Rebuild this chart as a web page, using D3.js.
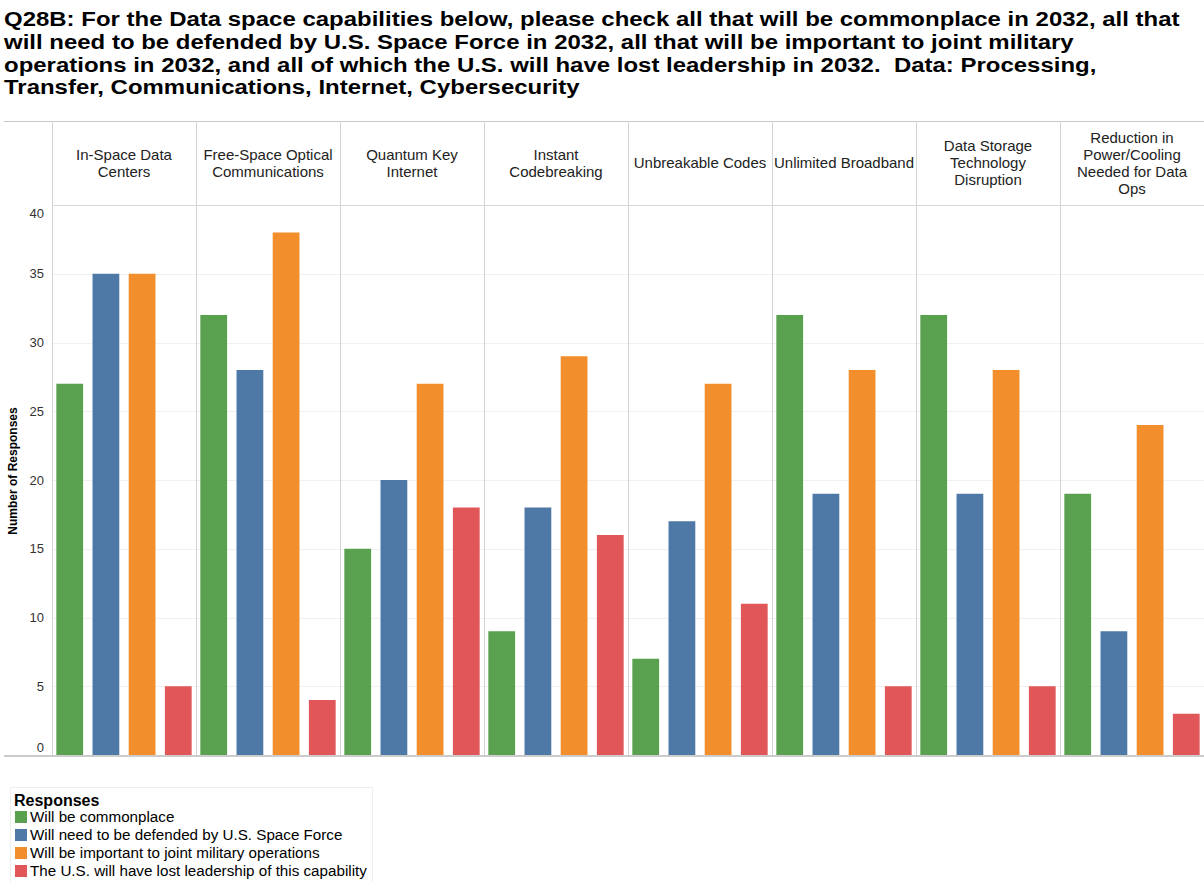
<!DOCTYPE html>
<html><head><meta charset="utf-8">
<script src="https://cdn.jsdelivr.net/npm/d3@7"></script>
<style>body{margin:0;background:#fff;} svg{display:block;font-family:Arial,"Liberation Sans",sans-serif;}</style>
</head><body><svg id="c" width="1204" height="882"></svg>
<script>
const titleLines = [
 "Q28B: For the Data space capabilities below, please check all that will be commonplace in 2032, all that",
 "will need to be defended by U.S. Space Force in 2032, all that will be important to joint military",
 "operations in 2032, and all of which the U.S. will have lost leadership in 2032.  Data: Processing,",
 "Transfer, Communications, Internet, Cybersecurity"];
const categories = ["In-Space Data Centers","Free-Space Optical Communications","Quantum Key Internet","Instant Codebreaking","Unbreakable Codes","Unlimited Broadband","Data Storage Technology Disruption","Reduction in Power/Cooling Needed for Data Ops"];
const categoryLines = [["In-Space Data","Centers"],["Free-Space Optical","Communications"],["Quantum Key","Internet"],["Instant","Codebreaking"],["Unbreakable Codes"],["Unlimited Broadband"],["Data Storage","Technology","Disruption"],["Reduction in","Power/Cooling","Needed for Data","Ops"]];
const seriesNames = ["Will be commonplace","Will need to be defended by U.S. Space Force","Will be important to joint military operations","The U.S. will have lost leadership of this capability"];
const commonplace = [27,32,15,9,7,32,32,19];
const defended = [35,28,20,18,17,19,19,9];
const important = [35,38,27,29,27,28,28,24];
const lostLeadership = [5,4,18,16,11,5,5,3];
const yTicks = [0,5,10,15,20,25,30,35,40];
const colors = ["#59a14f","#4e79a7","#f28e2b","#e15759"];
const series = [commonplace,defended,important,lostLeadership];

(function(){
const svg = d3.select("#c");
const left = 52, right = 1204, headTop = 121, plotTop = 205, bottom = 755;

svg.append("g").attr("transform","translate(4,0) scale(1.142,1)")
  .selectAll("text").data(titleLines).join("text")
  .attr("x",0).attr("y",(d,i)=>26+i*22.8).style("white-space","pre")
  .attr("font-size","21px").attr("font-weight","bold").attr("fill","#000").text(d=>d);

const x0 = d3.scaleBand().domain(categories).range([left,right]);
const x1 = d3.scaleBand().domain(d3.range(4)).range([0,x0.bandwidth()]).paddingInner(0.26).paddingOuter(0.12);
const y = d3.scaleLinear().domain([0,40]).range([bottom,plotTop]);

svg.append("g").selectAll("line").data(yTicks.filter(t=>t>0&&t<40)).join("line")
  .attr("x1",left).attr("x2",right).attr("y1",d=>Math.round(y(d))+0.5).attr("y2",d=>Math.round(y(d))+0.5)
  .attr("stroke","#f0f0f0").attr("stroke-width",1);

svg.append("line").attr("x1",4).attr("x2",right).attr("y1",headTop+0.5).attr("y2",headTop+0.5).attr("stroke","#c8c8c8");
svg.append("line").attr("x1",left).attr("x2",right).attr("y1",plotTop+0.5).attr("y2",plotTop+0.5).attr("stroke","#d9d9d9");
svg.append("g").selectAll("line").data(categories).join("line")
  .attr("x1",d=>Math.round(x0(d))+0.5).attr("x2",d=>Math.round(x0(d))+0.5)
  .attr("y1",headTop).attr("y2",bottom).attr("stroke","#d4d4d4");

const hg = svg.append("g");
categories.forEach((c,i)=>{
  const lines = categoryLines[i];
  const cx = x0(c)+x0.bandwidth()/2;
  const cy = (headTop+plotTop)/2;
  hg.append("text").attr("x",cx).attr("text-anchor","middle").attr("font-size","15px").attr("fill","#222")
    .selectAll("tspan").data(lines).join("tspan")
    .attr("x",cx).attr("y",(d,j)=>cy+5+(j-(lines.length-1)/2)*17).text(d=>d);
});

const bg = svg.append("g");
categories.forEach((c,i)=>{
  bg.selectAll(null).data(series.map((s,k)=>({k,v:s[i]}))).join("rect")
    .attr("x",d=>x0(c)+x1(d.k)).attr("width",x1.bandwidth())
    .attr("y",d=>y(d.v)).attr("height",d=>y(0)-y(d.v))
    .attr("fill",d=>colors[d.k]);
});

svg.append("line").attr("x1",4).attr("x2",right).attr("y1",bottom+1).attr("y2",bottom+1).attr("stroke","#bbb").attr("stroke-width",1.5);

svg.append("g").selectAll("text").data(yTicks).join("text")
  .attr("x",44).attr("text-anchor","end").attr("font-size","13px").attr("fill","#333")
  .attr("y",d=>y(d)+(d===0?-8:d===40?8:0)+4.5).text(d=>d);

svg.append("text").attr("transform",`translate(17,471) rotate(-90)`)
  .attr("text-anchor","middle").attr("font-size","12px").attr("font-weight","bold").attr("fill","#000")
  .text("Number of Responses");

const lg = svg.append("g");
lg.append("rect").attr("x",10.5).attr("y",787.5).attr("width",362).attr("height",100).attr("fill","none").attr("stroke","#eee");
lg.append("text").attr("x",14).attr("y",806).attr("font-size","16px").attr("font-weight","bold").attr("fill","#000").text("Responses");
seriesNames.forEach((n,i)=>{
  lg.append("rect").attr("x",15).attr("y",811+i*18).attr("width",12).attr("height",12).attr("fill",colors[i]);
  lg.append("text").attr("x",30).attr("y",822+i*18).attr("font-size","15.2px").attr("fill","#000").text(n);
});
})();
</script></body></html>
